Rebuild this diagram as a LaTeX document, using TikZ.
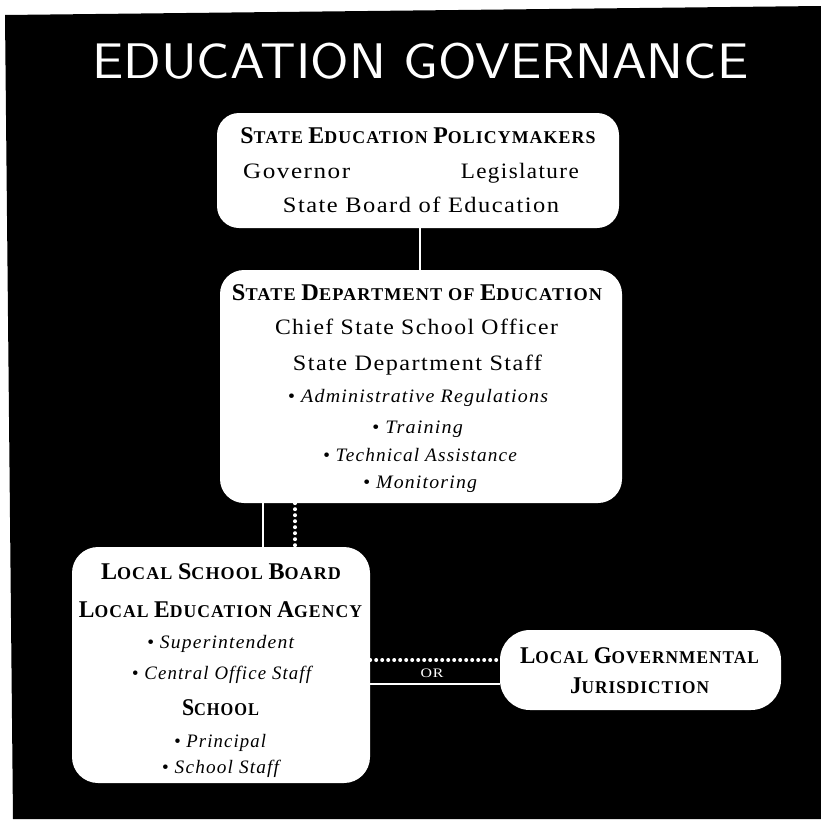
\documentclass[tikz,border=0pt]{standalone}
\usepackage{fontspec}
\usepackage{graphicx}
\setmainfont{Liberation Serif}
\newfontfamily\bodyf[LetterSpace=6]{Liberation Serif}
\newfontfamily\headf[LetterSpace=6]{Liberation Serif}
% small-caps word: large initial, smaller capitals after it
\newcommand\hcap[2]{{\fontsize{24}{24}\selectfont #1}{\fontsize{18}{18}\selectfont #2}}
% set a line to a given width, keeping its height
\newcommand\fitw[2]{\resizebox{#1pt}{\height}{#2}}
\newcommand\hd{\headf\bfseries\fontsize{18}{18}\selectfont}
\newcommand\rg{\bodyf\fontsize{22}{22}\selectfont}
\newcommand\itl{\bodyf\itshape\fontsize{19}{19}\selectfont}
\begin{document}
\begin{tikzpicture}[x=1pt,y=-1pt,
  panel/.style={fill=white, draw=none, rounded corners=24pt, inner sep=0pt},
  txt/.style={anchor=base, inner sep=0pt, text=black},
  link/.style={draw=white, line width=2pt},
  dots/.style={draw=white, line width=4pt, line cap=round, dash pattern=on 0pt off 6pt}]
\useasboundingbox (0,0) rectangle (821,819);
% paper and black ground
\fill[white] (0,0) rectangle (821,819);
\fill[black] (5,15) -- (821,6) -- (821,819) -- (13,819) -- cycle;

% title
\node[anchor=base west, inner sep=0pt, text=white] (title) at (92,78)
  {\fitw{656}{\sffamily\fontsize{50}{50}\selectfont EDUCATION GOVERNANCE}};

% panels
\node[panel, rounded corners=22pt, minimum width=402pt, minimum height=115pt] (b1) at (418,170.5) {};
\node[panel, minimum width=402pt, minimum height=233pt] (b2) at (421,386.5) {};
\node[panel, rounded corners=26pt, minimum width=298pt, minimum height=236pt] (b3) at (221,665) {};
\node[panel, rounded corners=30pt, minimum width=281pt, minimum height=80pt] (b4) at (640.5,670) {};

% connectors
\coordinate (xa) at (263,0);
\coordinate (xb) at (295,0);
\coordinate (ya) at (0,660);
\coordinate (yb) at (0,684);
\draw[link] ([xshift=2pt]b1.south) -- ([xshift=2pt]b1.south |- b2.north);
\draw[link] (b2.south -| xa) -- (b3.north -| xa);
\draw[dots] (b2.south -| xb) -- (b3.north -| xb);
\draw[dots] (b3.east |- ya) -- (b4.west |- ya);
\draw[link] (b3.east |- yb) -- (b4.west |- yb);
\node[anchor=base, inner sep=0pt, text=white] (orlab) at (432,677)
  {\fitw{23}{\bodyf\fontsize{13}{13}\selectfont OR}};

% state education policymakers
\node[txt] (t1a) at (418,143) {\fitw{355}{\hd\hcap{S}{TATE} \hcap{E}{DUCATION} \hcap{P}{OLICYMAKERS}}};
\node[txt, anchor=base west] (t1b) at (243,178) {\fitw{107}{\rg Governor}};
\node[txt, anchor=base east] (t1c) at (579,178) {\fitw{118}{\rg Legislature}};
\node[txt] (t1d) at (421,212) {\fitw{276}{\rg State Board of Education}};

% state department of education
\node[txt] (t2a) at (417,300) {\fitw{370}{\hd\hcap{S}{TATE} \hcap{D}{EPARTMENT} OF \hcap{E}{DUCATION}}};
\node[txt] (t2b) at (416.5,334) {\fitw{283}{\rg Chief State School Officer}};
\node[txt] (t2c) at (417.5,370) {\fitw{249}{\rg State Department Staff}};
\node[txt] (t2d) at (418,402) {\fitw{260}{\itl • Administrative Regulations}};
\node[txt] (t2e) at (417.5,433) {\fitw{91}{\itl • Training}};
\node[txt] (t2f) at (420,461) {\fitw{194}{\itl • Technical Assistance}};
\node[txt] (t2g) at (420,488) {\fitw{114}{\itl • Monitoring}};

% local school board
\node[txt] (t3a) at (221,579) {\fitw{240}{\hd\hcap{L}{OCAL} \hcap{S}{CHOOL} \hcap{B}{OARD}}};
\node[txt] (t3b) at (220.5,617) {\fitw{283}{\hd\hcap{L}{OCAL} \hcap{E}{DUCATION} \hcap{A}{GENCY}}};
\node[txt] (t3c) at (220.5,648) {\fitw{147}{\itl • Superintendent}};
\node[txt] (t3d) at (221.5,679) {\fitw{179}{\itl • Central Office Staff}};
\node[txt] (t3e) at (220.5,715) {\fitw{77}{\hd\hcap{S}{CHOOL}}};
\node[txt] (t3f) at (220,747) {\fitw{92}{\itl • Principal}};
\node[txt] (t3g) at (220.5,773) {\fitw{117}{\itl • School Staff}};

% local governmental jurisdiction
\node[txt] (t4a) at (639.5,663) {\fitw{239}{\hd\hcap{L}{OCAL} \hcap{G}{OVERNMENTAL}}};
\node[txt] (t4b) at (639.5,693) {\fitw{139}{\hd\hcap{J}{URISDICTION}}};
\end{tikzpicture}
\end{document}
